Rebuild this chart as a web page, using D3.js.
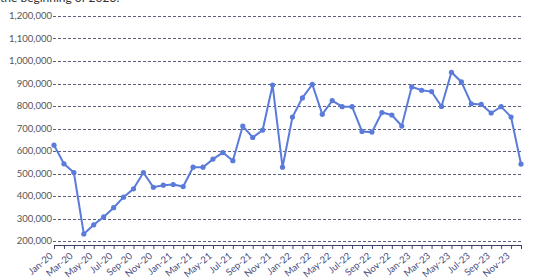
<!DOCTYPE html>
<html>
<head>
<meta charset="utf-8">
<script src="https://cdn.jsdelivr.net/npm/d3@7"></script>
<style>
body { margin: 0; background: #fff; }
text { font-family: Lato, "Open Sans", sans-serif; }
</style>
</head>
<body>
<svg id="chart" width="540" height="280"></svg>
<script>
// monthly values, Jan-20 .. Dec-23
var years = ["20", "21", "22", "23"]
var monthNames = ["Jan","Feb","Mar","Apr","May","Jun","Jul","Aug","Sep","Oct","Nov","Dec"]
var values = [
    626000, 543000, 504000, 231000, 272000, 307000, 348000, 395000, 432000, 504000, 439000, 448000,
    451000, 442000, 528000, 528000, 564000, 593000, 557000, 711000, 660000, 693000, 893000, 528000,
    751000, 836000, 896000, 763000, 824000, 797000, 797000, 687000, 684000, 771000, 760000, 711000,
    885000, 870000, 864000, 798000, 950000, 907000, 810000, 807000, 769000, 797000, 751000, 542000
]
var yTicks = [200000, 300000, 400000, 500000, 600000, 700000, 800000, 900000, 1000000, 1100000, 1200000]

var months = []
years.forEach(function(yr) {
    monthNames.forEach(function(m) { months.push(m + "-" + yr) })
})
var data = months.map(function(m, i) { return {m: m, v: values[i]} })

var svg = d3.select("#chart")
var left = 54, right = 521

var x = d3.scalePoint().domain(months).range([left, right])
var y = d3.scaleLinear().domain([200000, 1200000]).range([241, 16])

// title remnant, cut at the top like the original
svg.append("text")
    .attr("x", 0)
    .attr("y", 2)
    .attr("font-size", 12)
    .attr("fill", "#333")
    .text("the beginning of 2023.")

// grid + y labels
var grid = svg.append("g")
grid.selectAll("line")
    .data(yTicks)
    .enter().append("line")
    .attr("x1", left - 1)
    .attr("x2", right)
    .attr("y1", function(d) { return Math.round(y(d)) + 0.5 })
    .attr("y2", function(d) { return Math.round(y(d)) + 0.5 })
    .attr("stroke", "#5a5f7e")
    .attr("stroke-width", 1)
    .attr("stroke-dasharray", "3,2")

grid.selectAll("text")
    .data(yTicks)
    .enter().append("text")
    .attr("x", left - 2)
    .attr("y", function(d) { return y(d) })
    .attr("dy", "0.35em")
    .attr("text-anchor", "end")
    .attr("font-size", 9.5)
    .attr("fill", "#555")
    .text(d3.format(","))

// x axis
var xAxis = d3.axisBottom(x)
    .tickSizeOuter(0)
    .tickSize(4)
    .tickFormat(function(d, i) { return i % 2 == 0 ? d : "" })

var gx = svg.append("g")
    .attr("transform", "translate(0,245)")
    .call(xAxis)
gx.select(".domain").attr("stroke", "#3c4266").attr("d", "M" + left + ",0.5H" + right)
gx.selectAll(".tick line").attr("stroke", "#3c4266")
gx.selectAll(".tick text")
    .attr("font-size", 9.5)
    .attr("fill", "#4a5080")
    .attr("font-family", "Lato, sans-serif")
    .attr("text-anchor", "end")
    .attr("dy", null)
    .attr("y", 0)
    .attr("transform", "translate(-1,12) rotate(-40)")

// line
var line = d3.line()
    .x(function(d) { return x(d.m) })
    .y(function(d) { return y(d.v) })

svg.append("path")
    .datum(data)
    .attr("d", line)
    .attr("fill", "none")
    .attr("stroke", "#5b7bdb")
    .attr("stroke-width", 2)

svg.selectAll("circle.pt")
    .data(data)
    .enter().append("circle")
    .attr("class", "pt")
    .attr("cx", function(d) { return x(d.m) })
    .attr("cy", function(d) { return y(d.v) })
    .attr("r", 2.6)
    .attr("fill", "#5b7bdb")
</script>
</body>
</html>
